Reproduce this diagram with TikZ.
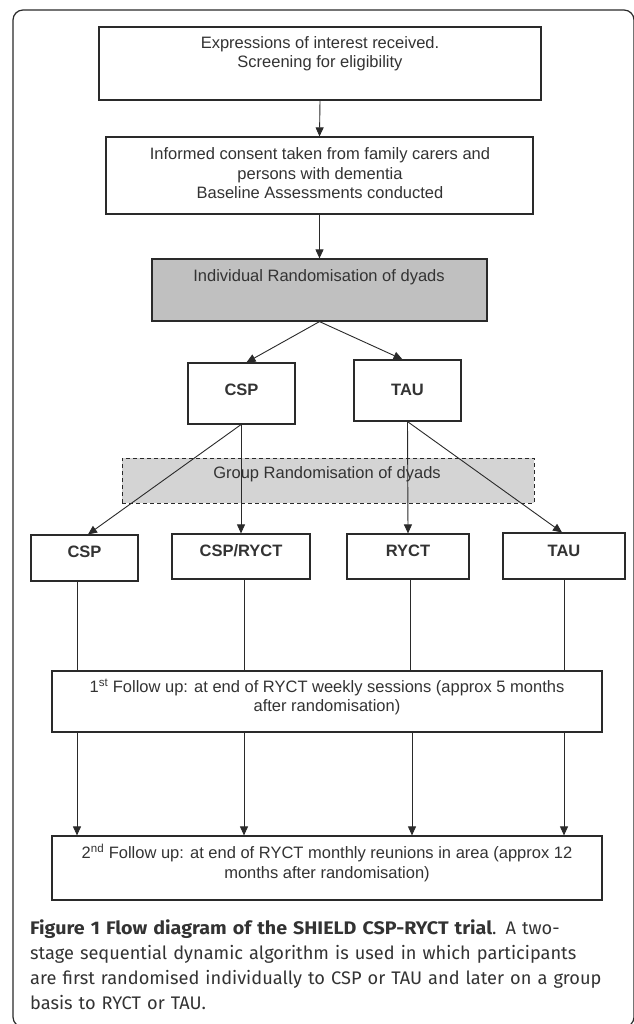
\documentclass[tikz,border=0pt]{standalone}
\usepackage{fontspec}
\setmainfont{Liberation Sans}
\newfontfamily\capf{Fira Sans}
\newfontfamily\capbf[FakeStretch=1.08]{Fira Sans}
\usetikzlibrary{arrows.meta,calc}
\definecolor{ln}{HTML}{2A2A2A}
\definecolor{tx}{HTML}{333333}
\definecolor{gfill}{HTML}{C0C0C0}
\definecolor{dfill}{HTML}{D4D4D4}
\begin{document}
\begin{tikzpicture}[x=1pt,y=-1pt,
  box/.style={draw=ln, line width=1.2pt, inner sep=0pt, fill=white},
  txt/.style={font=\fontsize{16.5}{19.5}\selectfont, text=tx, align=center, inner sep=0pt},
  btxt/.style={txt, font=\fontsize{16.5}{19.5}\selectfont\bfseries},
  arr/.style={draw=ln, line width=0.9pt, -{Triangle[length=9pt,width=8pt]}},
  plain/.style={draw=ln, line width=0.9pt}]
\useasboundingbox (0,0) rectangle (633,1024);
\fill[white] (0,0) rectangle (633,1024);
% frame
\draw[ln, line width=1.2pt, rounded corners=10pt] (13,10) rectangle (634,1027);

% boxes
\node[box, minimum width=442pt, minimum height=73pt] (b1) at (320,63.5) {};
\node[txt] (t1) at (320,53.5) {Expressions of interest received.\\Screening for eligibility};
\node[box, minimum width=427pt, minimum height=77pt] (b2) at (319.5,175.5) {};
\node[txt] (t2) at (320,173.5) {Informed consent taken from family carers and\\persons with dementia\\Baseline Assessments conducted};
\node[box, fill=gfill, minimum width=335pt, minimum height=62pt] (b3) at (319.5,290) {};
\node[txt] (t3) at (319,277) {Individual Randomisation of dyads};

\node[box, minimum width=107pt, minimum height=61pt] (csp) at (241.5,393.5) {};
\node[btxt] (tcsp) at (241.5,390) {CSP};
\node[box, minimum width=107pt, minimum height=61pt] (tau) at (407.5,390.5) {};
\node[btxt] (ttau) at (407.5,390) {TAU};

\node[draw=ln, fill=dfill, line width=1pt, dash pattern=on 4pt off 3pt, inner sep=0pt, minimum width=412pt, minimum height=45pt] (grp) at (328,480.5) {};
\node[txt] (tgrp) at (327,474) {Group Randomisation of dyads};

\node[box, minimum width=107pt, minimum height=46pt] (c2) at (84.5,558) {};
\node[btxt] (tc2) at (84.5,552) {CSP};
\node[box, minimum width=138pt, minimum height=45pt] (cr) at (241,556.5) {};
\node[btxt] (tcr) at (241,551) {CSP/RYCT};
\node[box, minimum width=122pt, minimum height=45pt] (ry) at (408,556.5) {};
\node[btxt] (try) at (408,551) {RYCT};
\node[box, minimum width=122pt, minimum height=46pt] (t2b) at (564,556) {};
\node[btxt] (tt2) at (564,550.5) {TAU};

\node[box, minimum width=550pt, minimum height=61pt] (f1) at (327,701.5) {};
\node[txt] (tf1) at (327,697) {1\textsuperscript{st} Follow up: at end of RYCT weekly sessions (approx 5 months\\after randomisation)};
\node[box, minimum width=550pt, minimum height=64pt] (f2) at (327,868) {};
\node[txt] (tf2) at (327,863) {2\textsuperscript{nd} Follow up: at end of RYCT monthly reunions in area (approx 12\\months after randomisation)};

% connectors
\draw[arr] (b1.south) -- (b2.north);
\draw[arr] (b2.south) -- (b3.north);
\draw[arr] (b3.south) -- ([xshift=5pt]csp.north);
\draw[arr] (b3.south) -- ([xshift=-5pt]tau.north);
\draw[arr] ([xshift=-0.5pt]csp.south) -- ([xshift=3.5pt]c2.north);
\draw[arr] ([xshift=-0.5pt]csp.south) -- (cr.north);
\draw[arr] (tau.south) -- (ry.north);
\draw[arr] (tau.south) -- ([xshift=-2pt]t2b.north);

\coordinate (x1) at (77,0);
\coordinate (x2) at (244,0);
\coordinate (x3) at (410,0);
\coordinate (x4) at (564,0);
\coordinate (y1) at (412,0);
\draw[plain] (c2.south -| x1) -- (f1.north -| x1);
\draw[plain] (cr.south -| x2) -- (f1.north -| x2);
\draw[plain] (ry.south -| x3) -- (f1.north -| x3);
\draw[plain] (t2b.south -| x4) -- (f1.north -| x4);
\draw[arr] (f1.south -| x1) -- (f2.north -| x1);
\draw[arr] (f1.south -| x2) -- (f2.north -| x2);
\draw[arr] (f1.south -| y1) -- (f2.north -| y1);
\draw[arr] (f1.south -| x4) -- (f2.north -| x4);

% caption
\node[anchor=north west, inner sep=0pt, text width=600pt, align=left, text=tx,
  font=\capf\fontsize{18.2}{25}\selectfont] (cap) at (30,919.5)
  {{\capbf\bfseries Figure 1 Flow diagram of the SHIELD CSP-RYCT trial}. A two-\\
   stage sequential dynamic algorithm is used in which participants\\
   are first randomised individually to CSP or TAU and later on a group\\
   basis to RYCT or TAU.};
\end{tikzpicture}
\end{document}
